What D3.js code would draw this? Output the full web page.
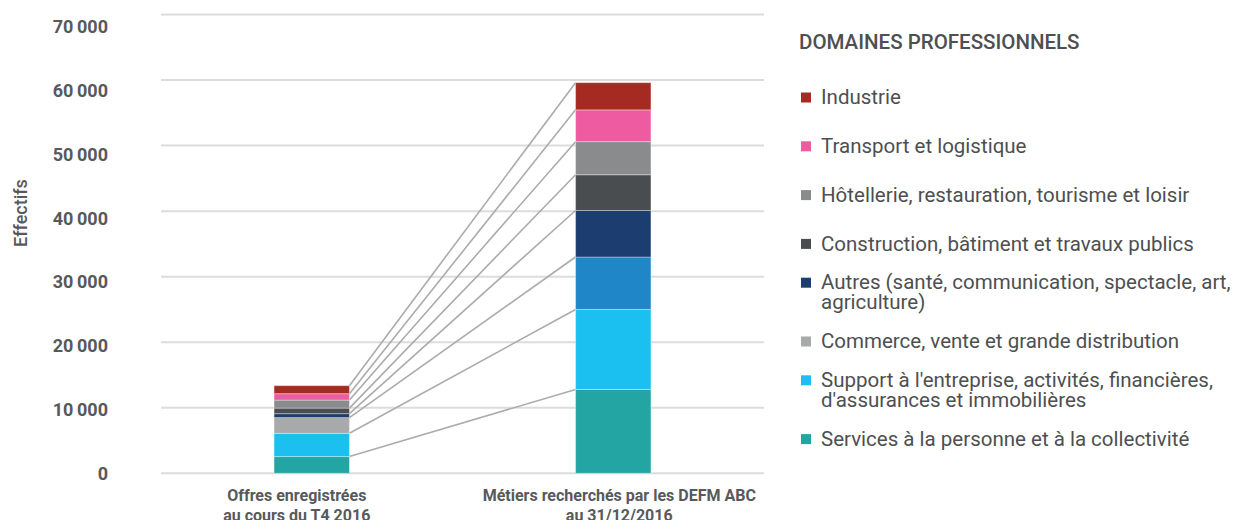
<!DOCTYPE html>
<html><head><meta charset="utf-8">
<script src="https://cdn.jsdelivr.net/npm/d3@7"></script>
<style>
html,body{margin:0;padding:0;background:#fff;}
svg{display:block;font-family:Roboto, "Noto Sans", sans-serif;}
</style></head>
<body><svg id="chart" width="1242" height="520"></svg>
<script>
// ---- data ----
const categories = [
  ["Offres enregistrées", "au cours du T4 2016"],
  ["Métiers recherchés par les DEFM ABC", "au 31/12/2016"]
];
// stack order, bottom to top
const domains = [
  "Services à la personne et à la collectivité",
  "Support à l'entreprise, activités, financières, d'assurances et immobilières",
  "Commerce, vente et grande distribution",
  "Autres (santé, communication, spectacle, art, agriculture)",
  "Construction, bâtiment et travaux publics",
  "Hôtellerie, restauration, tourisme et loisir",
  "Transport et logistique",
  "Industrie"
];
const legendLines = [
  ["Services à la personne et à la collectivité"],
  ["Support à l'entreprise, activités, financières,", "d'assurances et immobilières"],
  ["Commerce, vente et grande distribution"],
  ["Autres (santé, communication, spectacle, art,", "agriculture)"],
  ["Construction, bâtiment et travaux publics"],
  ["Hôtellerie, restauration, tourisme et loisir"],
  ["Transport et logistique"],
  ["Industrie"]
];
const offresValues  = [2550, 3550, 2400, 600, 850, 1220, 980, 1220];
const metiersValues = [12800, 12200, 8000, 7100, 5450, 5050, 4850, 4150];
const colors = ["#22a5a3", "#1bc0f0", "#a7a9ab", "#1b3d6f", "#4a4d50", "#8a8b8c", "#ef5ba1", "#a52a22"];
const colorsMetiers = ["#22a5a3", "#1bc0f0", "#1f86c8", "#1b3d6f", "#4a4d50", "#8a8b8c", "#ef5ba1", "#a52a22"];
const yTicks = [0, 10000, 20000, 30000, 40000, 50000, 60000, 70000];
const legendTitle = "DOMAINES PROFESSIONNELS";
const yTitle = "Effectifs";

// ---- layout ----
const svg = d3.select("#chart");
const plotLeft = 161, plotRight = 764, plotTop = 14.5, plotBottom = 473.3;
const textColor = "#58595b";

const x = d3.scaleBand().domain([0, 1]).range([plotLeft, plotRight])
  .paddingInner(0.75).paddingOuter(0.375);
const y = d3.scaleLinear().domain([0, 70000]).range([plotBottom, plotTop]);
const yLabel = d3.scaleLinear().domain([0, 70000]).range([plotBottom, 27]);

const fr = d3.formatLocale({decimal: ",", thousands: "\u2009", grouping: [3], currency: ["", " €"]});
const fmt = fr.format(",d");

// gridlines
svg.append("g").selectAll("line").data(yTicks).join("line")
  .attr("x1", plotLeft).attr("x2", plotRight)
  .attr("y1", d => y(d)).attr("y2", d => y(d))
  .attr("stroke", "#dcdcdc").attr("stroke-width", 2);

// y tick labels via axis
const yAxis = svg.append("g").attr("transform", "translate(108,0)")
  .call(d3.axisLeft(yLabel).tickValues(yTicks).tickFormat(fmt).tickSize(0).tickPadding(0));
yAxis.select(".domain").remove();
yAxis.selectAll("text").attr("fill", textColor).attr("font-size", 18)
  .attr("font-weight", 700).attr("font-family", "Roboto, sans-serif");

// y title
svg.append("text").attr("transform", "translate(27,213) rotate(-90)")
  .attr("text-anchor", "middle").attr("fill", textColor)
  .attr("font-size", 18).attr("font-weight", 500).text(yTitle);

// stacks
function stackOf(values) {
  let acc = 0;
  return values.map((v, i) => { const s = {i, y0: acc, y1: acc + v}; acc += v; return s; });
}
const stacks = [stackOf(offresValues), stackOf(metiersValues)];
const barColors = [colors, colorsMetiers];

// connectors
const links = stacks[0].map((s, i) => ({a: s.y1, b: stacks[1][i].y1}));
svg.append("g").selectAll("line").data(links).join("line")
  .attr("x1", x(0) + x.bandwidth()).attr("x2", x(1))
  .attr("y1", d => y(d.a)).attr("y2", d => y(d.b))
  .attr("stroke", "#ababab").attr("stroke-width", 1.6);

stacks.forEach((st, bi) => {
  svg.append("g").selectAll("rect").data(st).join("rect")
    .attr("x", x(bi)).attr("width", x.bandwidth())
    .attr("y", d => y(d.y1)).attr("height", d => y(d.y0) - y(d.y1))
    .attr("fill", d => barColors[bi][d.i])
    .attr("stroke", "rgba(255,255,255,0.35)").attr("stroke-width", 1);
});

// category labels
const catOffsets = [-15, 6];
categories.forEach((lines, ci) => {
  const t = svg.append("text").attr("text-anchor", "middle").attr("fill", textColor)
    .attr("font-size", 16).attr("font-weight", 700);
  lines.forEach((l, li) => {
    t.append("tspan").attr("x", x(ci) + x.bandwidth() / 2 + catOffsets[ci])
      .attr("y", 501 + li * 20).text(l);
  });
});

// legend
const lg = svg.append("g");
lg.append("text").attr("x", 799).attr("y", 49).attr("fill", "#4d4f51")
  .attr("font-size", 20.5).attr("font-weight", 500).text(legendTitle);
const order = d3.range(domains.length).reverse();
order.forEach((di, k) => {
  const lines = legendLines[di];
  const cy = 97 + k * 48.8;
  const firstY = cy - (lines.length - 1) * 10;
  lg.append("rect").attr("x", 801).attr("y", firstY - 4.5).attr("width", 10).attr("height", 10)
    .attr("fill", colors[di]);
  const t = lg.append("text").attr("fill", "#4d4f51").attr("font-size", 20.5).attr("font-weight", 400);
  lines.forEach((l, li) => {
    t.append("tspan").attr("x", 821).attr("y", firstY + li * 20).attr("dy", "0.35em").text(l);
  });
});
</script></body></html>
